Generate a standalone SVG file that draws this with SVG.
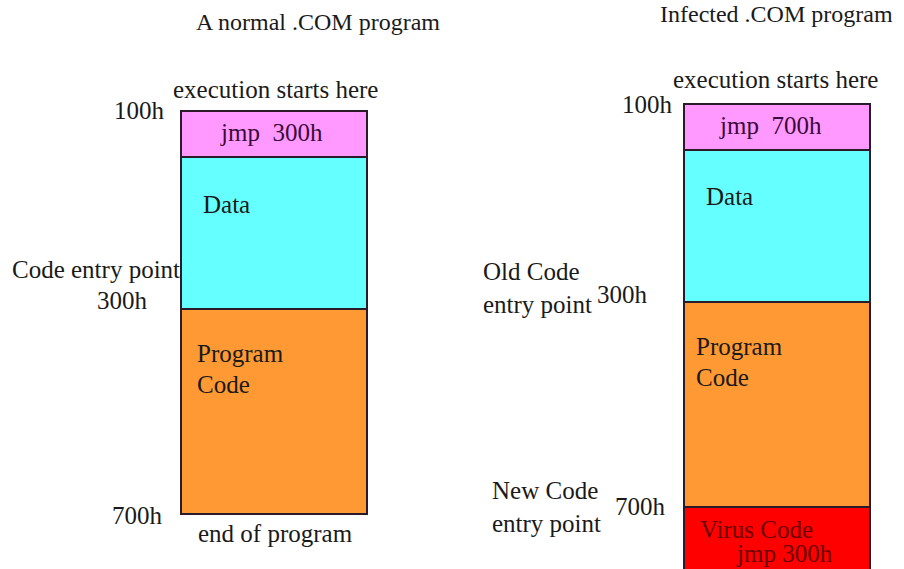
<svg xmlns="http://www.w3.org/2000/svg" width="904" height="569" viewBox="0 0 904 569">
  <style>
    text { font-family: "Liberation Serif", "Times New Roman", serif; font-size: 25px; fill: #1a1a1a; }
    .title { font-size: 24px; }
    .addr { text-anchor: end; }
    .seg { stroke: #2a1a2a; stroke-width: 2; }
    .jmp { fill: #ff99ff; }
    .data { fill: #66ffff; }
    .code { fill: #ff9933; }
    .virus { fill: #ff0000; }
    .in-jmp { fill: #3a0a3a; }
    .in-virus { fill: #6a0000; }
  </style>
  <rect width="904" height="569" fill="#ffffff"/>

  <!-- Normal program layout -->
  <g id="normal">
    <text class="title" x="196" y="30">A normal .COM program</text>
    <text x="173" y="98">execution starts here</text>
    <g id="normal-jmp">
      <rect class="seg jmp" x="181" y="111" width="186" height="46"/>
      <text class="in-jmp" x="221" y="141" xml:space="preserve">jmp  300h</text>
    </g>
    <g id="normal-data">
      <rect class="seg data" x="181" y="157" width="186" height="152"/>
      <text x="203" y="213">Data</text>
    </g>
    <g id="normal-code">
      <rect class="seg code" x="181" y="309" width="186" height="205"/>
      <text x="197" y="362">Program</text>
      <text x="197" y="393">Code</text>
    </g>
    <text class="addr" x="164" y="119">100h</text>
    <text x="12" y="278">Code entry point</text>
    <text class="addr" x="147" y="309">300h</text>
    <text class="addr" x="162" y="524">700h</text>
    <text x="198" y="542">end of program</text>
  </g>

  <!-- Infected program layout -->
  <g id="infected">
    <text class="title" x="660" y="22">Infected .COM program</text>
    <text x="673" y="88">execution starts here</text>
    <g id="infected-jmp">
      <rect class="seg jmp" x="684" y="104" width="186" height="46"/>
      <text class="in-jmp" x="720" y="134" xml:space="preserve">jmp  700h</text>
    </g>
    <g id="infected-data">
      <rect class="seg data" x="684" y="150" width="186" height="152"/>
      <text x="706" y="205">Data</text>
    </g>
    <g id="infected-code">
      <rect class="seg code" x="684" y="302" width="186" height="205"/>
      <text x="696" y="355">Program</text>
      <text x="696" y="386">Code</text>
    </g>
    <g id="infected-virus">
      <rect class="seg virus" x="684" y="507" width="186" height="63"/>
      <text class="in-virus" x="700" y="538">Virus Code</text>
      <text class="in-virus" x="737" y="562">jmp 300h</text>
    </g>
    <text class="addr" x="672" y="113">100h</text>
    <text x="483" y="280">Old Code</text>
    <text x="483" y="313">entry point</text>
    <text class="addr" x="647" y="303">300h</text>
    <text x="492" y="499">New Code</text>
    <text x="492" y="532">entry point</text>
    <text class="addr" x="665" y="515">700h</text>
  </g>

  <g id="connectors"/>
</svg>
